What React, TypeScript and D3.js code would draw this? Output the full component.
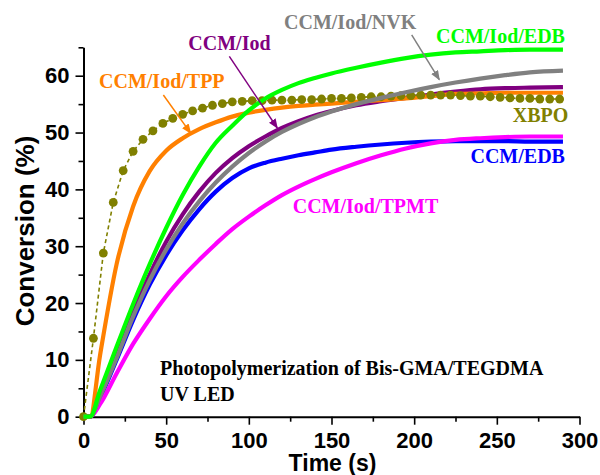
import * as d3 from "d3";
import { useEffect, useRef } from "react";

// conversion (%) vs irradiation time (s)
const timeS = [0, 4, 10, 20, 30, 40, 50, 60, 70, 80, 90, 100, 110, 120, 130, 140, 150, 165, 180, 195, 210, 225, 240, 255, 270, 290];

const ccmIodEdb = [0, 0, 4.6, 12.3, 19.8, 26.8, 33.2, 39, 44, 48.2, 51.2, 53.9, 56, 57.5, 58.7, 59.6, 60.4, 61.4, 62.3, 63.1, 63.7, 64.1, 64.3, 64.5, 64.6, 64.6];
const ccmIodNvk = [0, 0, 3.5, 10.3, 17.6, 24, 29.4, 34, 37.9, 41.2, 44, 46.4, 48.4, 50.1, 51.5, 52.7, 53.7, 55, 56.1, 57.1, 58, 58.8, 59.5, 60.1, 60.6, 60.9];
const ccmIod = [0, 0, 3.8, 10.8, 18.3, 25, 30.8, 35.6, 39.6, 42.9, 45.5, 47.6, 49.3, 50.8, 52, 53, 53.8, 54.8, 55.5, 56.1, 56.7, 57.2, 57.6, 57.8, 57.9, 58];
const ccmIodTpp = [0, 0, 10.8, 26.8, 37, 43.2, 46.8, 49, 50.6, 51.8, 52.8, 53.5, 54, 54.4, 54.7, 54.9, 55.1, 55.4, 55.7, 56, 56.4, 56.8, 56.9, 57, 57, 57];
const ccmEdb = [0, 0, 3.3, 10, 17, 23.2, 28.4, 32.8, 36.5, 39.6, 42, 43.7, 44.7, 45.4, 46, 46.5, 47, 47.5, 47.9, 48.2, 48.4, 48.5, 48.5, 48.5, 48.4, 48.4];
const ccmIodTpmt = [0, 0, 2.2, 7.6, 12.8, 17.2, 21.2, 24.6, 27.6, 30.4, 33, 35.2, 37.2, 39, 40.5, 41.8, 43, 44.6, 46, 47.2, 48.1, 48.7, 49, 49.2, 49.3, 49.3];

const xbpoTime = [0, 6, 12, 18, 24, 30, 36, 42, 48, 54, 60, 66, 72, 78, 84, 90, 96, 102, 108, 114, 120, 126, 132, 138, 144, 150, 156, 162, 168, 174, 180, 186, 192, 198, 204, 210, 216, 222, 228, 234, 240, 246, 252, 258, 264, 270, 276, 282, 288];
const xbpo = [0, 13.8, 28.8, 37.7, 43.3, 46.7, 48.8, 50.3, 51.6, 52.5, 53.2, 53.8, 54.3, 54.8, 55.1, 55.4, 55.5, 55.6, 55.6, 55.7, 55.7, 55.7, 55.8, 55.8, 55.9, 56, 56, 56.1, 56.2, 56.3, 56.3, 56.4, 56.5, 56.5, 56.6, 56.6, 56.6, 56.6, 56.5, 56.4, 56.4, 56.3, 56.2, 56.1, 56, 56, 55.9, 55.9, 55.9];

const xTicks = [0, 50, 100, 150, 200, 250, 300];
const xMinor = [25, 75, 125, 175, 225, 275];
const yTicks = [0, 10, 20, 30, 40, 50, 60];
const yMinor = [5, 15, 25, 35, 45, 55, 65];

function App() {
   const ref = useRef(null);

   useEffect(() => {
      const svg = d3.select(ref.current);
      svg.selectAll("*").remove();

      const x = d3.scaleLinear().domain([0, 300]).range([83.5, 579.5]);
      const y = d3.scaleLinear().domain([0, 65]).range([416.7, 47.3]);

      const series = [
         { name: "CCM/EDB", values: ccmEdb, color: "#0000ff" },
         { name: "CCM/Iod/TPMT", values: ccmIodTpmt, color: "#ff00ff" },
         { name: "CCM/Iod", values: ccmIod, color: "#800080" },
         { name: "CCM/Iod/TPP", values: ccmIodTpp, color: "#ff8000" },
         { name: "CCM/Iod/NVK", values: ccmIodNvk, color: "#808080" },
         { name: "CCM/Iod/EDB", values: ccmIodEdb, color: "#00ff00" },
      ];

      const defs = svg.append("defs");
      ["#ff8000", "#800080", "#808080"].forEach((c, i) => {
         defs.append("marker")
            .attr("id", "arr" + i)
            .attr("markerUnits", "userSpaceOnUse")
            .attr("markerWidth", 10)
            .attr("markerHeight", 8)
            .attr("refX", 9)
            .attr("refY", 4)
            .attr("orient", "auto")
            .append("path")
            .attr("d", "M0,0L10,4L0,8Z")
            .attr("fill", c);
      });

      // axes
      const axisFont = (g) =>
         g.selectAll("text")
            .attr("font-family", "'Liberation Sans', Arial, sans-serif")
            .attr("font-weight", "bold")
            .attr("font-size", 22)
            .attr("fill", "#000");

      const gx = svg.append("g").attr("transform", `translate(0,${y(0)})`);
      gx.call(d3.axisBottom(x).tickValues(xTicks).tickSize(8).tickSizeOuter(0).tickPadding(8));
      gx.append("g").call(d3.axisBottom(x).tickValues(xMinor).tickSize(5).tickSizeOuter(0).tickFormat(() => ""));
      axisFont(gx);

      const gy = svg.append("g").attr("transform", `translate(${x(0)},0)`);
      gy.call(d3.axisLeft(y).tickValues(yTicks).tickSize(8).tickSizeOuter(0).tickPadding(6));
      gy.append("g").call(d3.axisLeft(y).tickValues(yMinor).tickSize(5).tickSizeOuter(0).tickFormat(() => ""));
      axisFont(gy);

      svg.selectAll(".domain").attr("stroke", "#000").attr("stroke-width", 2);
      svg.selectAll(".tick line").attr("stroke", "#000").attr("stroke-width", 1.6);
      gx.selectAll("g > g > .domain").remove();
      gy.selectAll("g > g > .domain").remove();

      svg.append("text")
         .attr("x", x(150) + 1)
         .attr("y", 471)
         .attr("text-anchor", "middle")
         .attr("font-family", "'Liberation Sans', Arial, sans-serif")
         .attr("font-weight", "bold")
         .attr("font-size", 23)
         .text("Time (s)");

      svg.append("text")
         .attr("transform", `translate(34,231) rotate(-90)`)
         .attr("text-anchor", "middle")
         .attr("font-family", "'Liberation Sans', Arial, sans-serif")
         .attr("font-weight", "bold")
         .attr("font-size", 26)
         .text("Conversion (%)");

      const line = d3
         .line()
         .x((d) => x(d[0]))
         .y((d) => y(d[1]))
         .curve(d3.curveMonotoneX);

      const drawSeries = (s) =>
         svg.append("path")
            .attr("d", line(timeS.map((t, i) => [t, s.values[i]])))
            .attr("fill", "none")
            .attr("stroke", s.color)
            .attr("stroke-width", 4.2)
            .attr("stroke-linejoin", "round");

      series.slice(0, 4).forEach(drawSeries);

      const xbpoData = xbpoTime.map((t, i) => [t, xbpo[i]]);
      svg.append("path")
         .attr("d", d3.line().x((d) => x(d[0])).y((d) => y(d[1]))(xbpoData))
         .attr("fill", "none")
         .attr("stroke", "#808000")
         .attr("stroke-width", 1.6)
         .attr("stroke-dasharray", "4,3");
      svg.selectAll("circle.xbpo")
         .data(xbpoData)
         .enter()
         .append("circle")
         .attr("class", "xbpo")
         .attr("cx", (d) => x(d[0]))
         .attr("cy", (d) => y(d[1]))
         .attr("r", 4.4)
         .attr("fill", "#808000");

      series.slice(4).forEach(drawSeries);

      // labels, positioned in data units
      const labels = [
         { text: "CCM/Iod/TPP", t: 9.4, v: 57.8, anchor: "start", color: "#ff8000" },
         { text: "CCM/Iod", t: 63.4, v: 64.6, anchor: "start", color: "#800080" },
         { text: "CCM/Iod/NVK", t: 121.3, v: 68.2, anchor: "start", color: "#808080" },
         { text: "CCM/Iod/EDB", t: 291.2, v: 65.7, anchor: "end", color: "#00ff00" },
         { text: "XBPO", t: 293.2, v: 51.9, anchor: "end", color: "#808000" },
         { text: "CCM/EDB", t: 291.2, v: 44.6, anchor: "end", color: "#0000ff" },
         { text: "CCM/Iod/TPMT", t: 214.6, v: 35.8, anchor: "end", color: "#ff00ff" },
         { text: "Photopolymerization of Bis-GMA/TEGDMA", t: 46.3, v: 7.3, anchor: "start", color: "#000" },
         { text: "UV LED", t: 46.3, v: 2.7, anchor: "start", color: "#000" },
      ];
      svg.selectAll("text.lbl")
         .data(labels)
         .enter()
         .append("text")
         .attr("class", "lbl")
         .attr("x", (d) => x(d.t))
         .attr("y", (d) => y(d.v))
         .attr("text-anchor", (d) => d.anchor)
         .attr("fill", (d) => d.color)
         .attr("font-family", "'Liberation Serif', 'Times New Roman', serif")
         .attr("font-weight", "bold")
         .attr("font-size", 20)
         .text((d) => d.text);

      const arrows = [
         { from: [48.3, 56.6], to: [64.8, 49.9], color: "#ff8000", m: 0 },
         { from: [88.2, 63.4], to: [117.2, 50.8], color: "#800080", m: 1 },
         { from: [198.5, 67.2], to: [215.2, 59.3], color: "#808080", m: 2 },
      ];
      svg.selectAll("line.arrow")
         .data(arrows)
         .enter()
         .append("line")
         .attr("class", "arrow")
         .attr("x1", (d) => x(d.from[0]))
         .attr("y1", (d) => y(d.from[1]))
         .attr("x2", (d) => x(d.to[0]))
         .attr("y2", (d) => y(d.to[1]))
         .attr("stroke", (d) => d.color)
         .attr("stroke-width", 1.5)
         .attr("marker-end", (d) => `url(#arr${d.m})`);
   }, []);

   return (
      <svg
         ref={ref}
         width={600}
         height={475}
         style={{ position: "absolute", left: 0, top: 0, background: "#fff" }}
      ></svg>
   );
}

export default App;
